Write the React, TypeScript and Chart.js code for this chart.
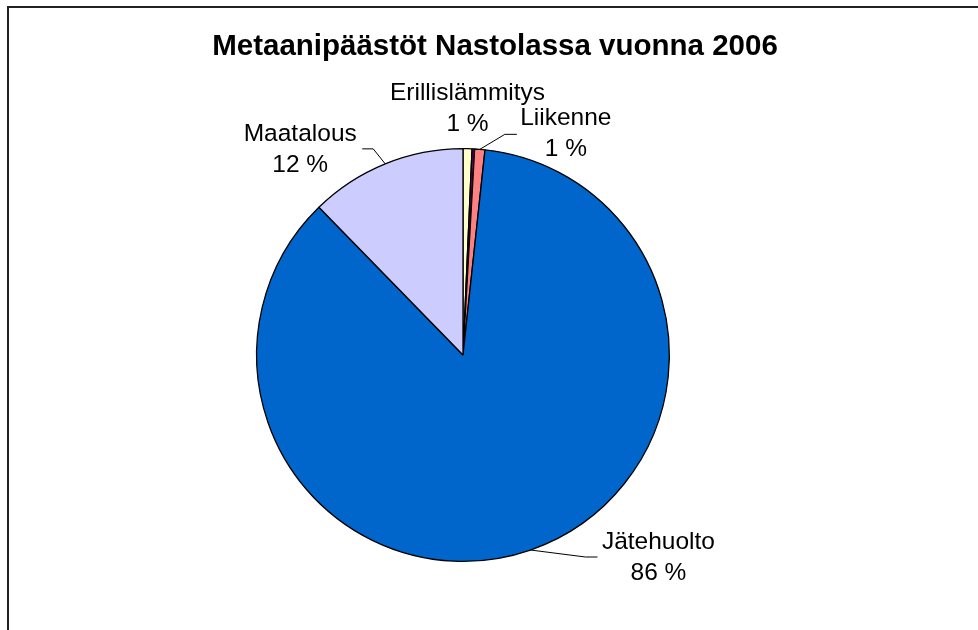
import React, { useEffect, useRef } from "react";
import { Chart, registerables } from "chart.js";

Chart.register(...registerables);

const TITLE = "Metaanipäästöt Nastolassa vuonna 2006";
const categories = ["Erillislämmitys", "Muut", "Liikenne", "Jätehuolto", "Maatalous"];
const values = [0.7, 0.2, 0.8, 86.0, 12.3];
const showLabel = [true, false, true, true, true];
const colors = ["#FFFFCC", "#660066", "#FF8080", "#0066CC", "#CCCCFF"];

// label placement relative to the slice's outer mid point (layout only)
const labelLayout: Record<number, { dx: number; dy: number; leader?: number[][] }> = {
  0: { dx: 0, dy: -49 },
  2: { dx: 86, dy: -24, leader: [[25, -15], [37, -15]] },
  3: { dx: 128, dy: -1, leader: [[55, 7], [67, 7]] },
  4: { dx: -85, dy: -23, leader: [[-12, -15], [-23, -15]] },
};

const FONT = '"Liberation Sans", Arial, sans-serif';

const overlayPlugin = {
  id: "overlay",
  afterDraw(chart: any) {
    const ctx = chart.ctx as CanvasRenderingContext2D;
    ctx.save();
    // frame
    ctx.strokeStyle = "#222";
    ctx.lineWidth = 2;
    ctx.strokeRect(8, 7, 1000, 1000);
    // title
    ctx.fillStyle = "#000";
    ctx.font = `bold 29.5px ${FONT}`;
    ctx.textAlign = "center";
    ctx.textBaseline = "alphabetic";
    ctx.fillText(TITLE, 495, 55);
    // labels
    const meta = chart.getDatasetMeta(0);
    const total = values.reduce((a, b) => a + b, 0);
    ctx.font = `24.5px ${FONT}`;
    meta.data.forEach((arc: any, i: number) => {
      if (!showLabel[i]) return;
      const lay = labelLayout[i];
      if (!lay) return;
      const mid = (arc.startAngle + arc.endAngle) / 2;
      const mx = arc.x + Math.cos(mid) * arc.outerRadius;
      const my = arc.y + Math.sin(mid) * arc.outerRadius;
      if (lay.leader) {
        ctx.strokeStyle = "#000";
        ctx.lineWidth = 1;
        ctx.beginPath();
        ctx.moveTo(mx, my);
        lay.leader.forEach((p) => ctx.lineTo(mx + p[0], my + p[1]));
        ctx.stroke();
      }
      const pct = Math.round((values[i] / total) * 100) + " %";
      ctx.fillStyle = "#000";
      ctx.fillText(categories[i], mx + lay.dx, my + lay.dy);
      ctx.fillText(pct, mx + lay.dx, my + lay.dy + 31);
    });
    ctx.restore();
  },
};

export default function App() {
  const ref = useRef<HTMLCanvasElement | null>(null);
  useEffect(() => {
    if (!ref.current) return;
    const chart = new Chart(ref.current, {
      type: "pie",
      data: {
        labels: categories,
        datasets: [
          {
            data: values,
            backgroundColor: colors,
            borderColor: "#000",
            borderWidth: 1.3,
            hoverOffset: 0,
          },
        ],
      },
      options: {
        responsive: false,
        animation: false,
        layout: { padding: { left: 256, right: 308, top: 148, bottom: 68 } },
        plugins: {
          legend: { display: false },
          tooltip: { enabled: false },
          title: { display: false },
        },
      },
      plugins: [overlayPlugin],
    });
    return () => chart.destroy();
  }, []);
  return (
    <div style={{ position: "fixed", left: 0, top: 0, width: 978, height: 630, background: "#fff" }}>
      <canvas ref={ref} width={978} height={630} />
    </div>
  );
}
